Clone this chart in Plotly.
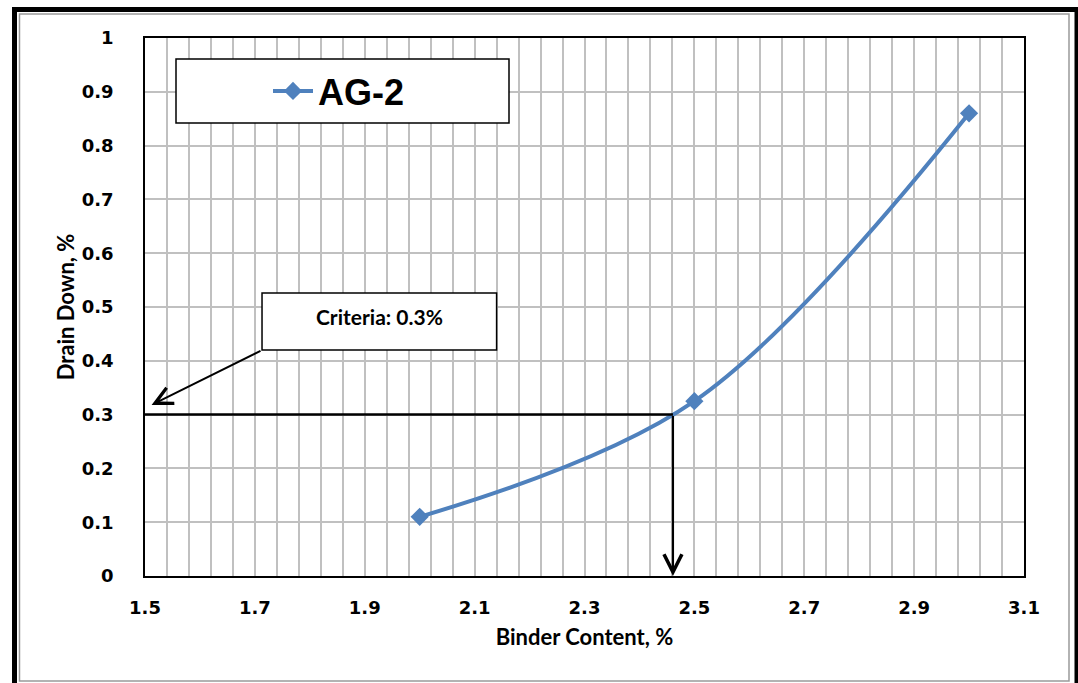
import plotly.graph_objects as go

# Drain-down test results for mix AG-2
binder_content = [2.0, 2.5, 3.0]
drain_down = [0.11, 0.325, 0.86]
series_name = "AG-2"

# Criteria and the binder content where the curve meets it
criteria_dd = 0.3
criteria_binder = 2.461
criteria_label = "Criteria: 0.3%"

x_ticks = [1.5, 1.7, 1.9, 2.1, 2.3, 2.5, 2.7, 2.9, 3.1]
y_ticks = [0, 0.1, 0.2, 0.3, 0.4, 0.5, 0.6, 0.7, 0.8, 0.9, 1]

W, H = 1078, 683
ML, MR, MT, MB = 145, 54, 38, 107
PW, PH = W - ML - MR, H - MT - MB


def px(x):
    return (x - ML) / PW


def py(y):
    return (H - MB - y) / PH


BLUE = "#4f81bd"
GRID = "#c0c0c0"
TICK_FONT = dict(family="DejaVu Sans", size=18, color="black")
TITLE_FONT = dict(family="Lato", size=22, color="black")

fig = go.Figure()
fig.add_trace(go.Scatter(
    x=binder_content, y=drain_down, name="<b>" + series_name + "</b>",
    mode="lines+markers",
    line=dict(color=BLUE, width=4, shape="spline", smoothing=1.0),
    marker=dict(symbol="diamond", size=14, color=BLUE),
))

shapes = [
    # outer frame
    dict(type="rect", xref="paper", yref="paper",
         x0=px(14.5), y0=py(9.5), x1=px(1077), y1=py(700),
         line=dict(color="black", width=5), layer="above"),
    dict(type="rect", xref="paper", yref="paper",
         x0=px(19.5), y0=py(14), x1=px(1069), y1=py(681),
         line=dict(color="#9a9a9a", width=1.5), layer="above"),
    # criteria guide line
    dict(type="line", xref="x", yref="y",
         x0=1.5, y0=criteria_dd, x1=criteria_binder, y1=criteria_dd,
         line=dict(color="black", width=2.5)),
    # legend box
    dict(type="rect", xref="paper", yref="paper",
         x0=px(176), y0=py(59), x1=px(509), y1=py(123),
         line=dict(color="black", width=1.5), fillcolor="white", layer="above"),
    # callout box
    dict(type="rect", xref="x", yref="y",
         x0=1.713, y0=0.42, x1=2.14, y1=0.526,
         line=dict(color="black", width=1.5), fillcolor="white", layer="above"),
]

annotations = [
    # arrow from the callout to the y axis at the criteria level
    dict(x=1.512, y=criteria_dd + 0.018, ax=1.713, ay=0.42,
         xref="x", yref="y", axref="x", ayref="y", text="",
         showarrow=True, arrowhead=5, arrowsize=1.7, arrowwidth=2,
         arrowcolor="black"),
    # arrow down from the intersection to the x axis
    dict(x=criteria_binder, y=0.0, ax=criteria_binder, ay=criteria_dd,
         xref="x", yref="y", axref="x", ayref="y", text="",
         showarrow=True, arrowhead=5, arrowsize=1.6, arrowwidth=2.2,
         arrowcolor="black"),
    dict(x=1.9265, y=0.483, xref="x", yref="y", text="<b>" + criteria_label + "</b>",
         showarrow=False, font=dict(family="Lato", size=21, color="black")),
]

fig.update_layout(
    width=W, height=H,
    margin=dict(l=ML, r=MR, t=MT, b=MB),
    paper_bgcolor="white", plot_bgcolor="white",
    shapes=shapes, annotations=annotations,
    showlegend=True,
    legend=dict(x=px(268), y=py(91), xanchor="left", yanchor="middle",
                bgcolor="rgba(0,0,0,0)", borderwidth=0,
                font=dict(family="Liberation Sans", size=36, color="black"),
                itemwidth=40),
    xaxis=dict(
        range=[1.5, 3.1], tickmode="array", tickvals=x_ticks,
        ticktext=["<b>%g</b>" % v for v in x_ticks],
        tickfont=TICK_FONT, ticks="", ticklen=0, ticklabelstandoff=15,
        showgrid=True, gridcolor=GRID, gridwidth=1.5,
        minor=dict(dtick=0.04, tick0=1.5, showgrid=True, gridcolor=GRID, gridwidth=1.5),
        showline=True, linecolor="black", linewidth=1.5, mirror=True,
        title=dict(text="<b>Binder Content, %</b>", font=TITLE_FONT, standoff=12),
        zeroline=False, fixedrange=True,
    ),
    yaxis=dict(
        range=[0, 1], tickmode="array", tickvals=y_ticks,
        ticktext=["<b>%g</b>" % v for v in y_ticks],
        tickfont=TICK_FONT, ticks="", ticklen=0, ticklabelstandoff=26,
        showgrid=True, gridcolor=GRID, gridwidth=1.5,
        showline=True, linecolor="black", linewidth=1.5, mirror=True,
        title=dict(text="<b>Drain Down, %</b>", font=TITLE_FONT, standoff=1),
        zeroline=False, fixedrange=True,
    ),
)

fig.write_html("out.html")
